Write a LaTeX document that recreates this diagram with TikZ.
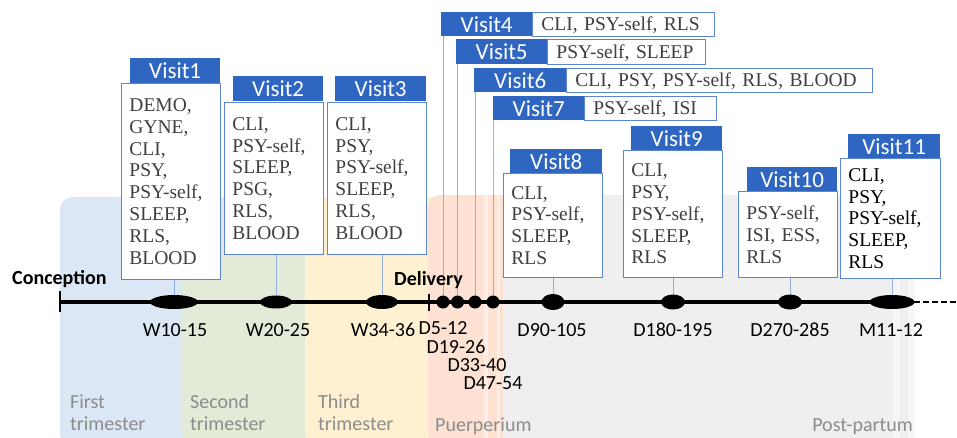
\documentclass[tikz,border=0pt]{standalone}
\usepackage{fontspec}
\setmainfont{Liberation Serif}
\newfontfamily\carl{Carlito}
\usetikzlibrary{shapes.geometric}
\definecolor{hblue}{HTML}{2F66C2}
\definecolor{bblue}{HTML}{5A86D4}
\definecolor{cblue}{HTML}{95B0E0}
\definecolor{txtgrey}{HTML}{3F3F3F}
\definecolor{labgrey}{HTML}{8C8C8C}
\definecolor{rblue}{HTML}{DCE7F5}
\definecolor{rgreen}{HTML}{E3EBD8}
\definecolor{ryellow}{HTML}{FEF1D2}
\definecolor{rorange}{HTML}{FDE2D3}
\definecolor{rorangel}{HTML}{FCEDE6}
\definecolor{rgrey}{HTML}{EFEFEF}
\definecolor{rgreyl}{HTML}{F6F6F6}
\begin{document}
\begin{tikzpicture}[x=1pt,y=-1pt,
  region/.style={rounded corners=12pt},
  vhead/.style={fill=hblue, text=white, font=\carl\fontsize{23}{26}\selectfont,
    inner sep=0pt, anchor=north west, minimum height=25pt},
  vbody/.style={draw=bblue, line width=0.9pt, fill=white, text=txtgrey,
    font=\fontsize{19.5}{21.8}\selectfont, align=left, inner xsep=8pt, inner ysep=0pt,
    anchor=north west},
  vline/.style={vbody, inner xsep=9pt, text height=13pt, text depth=0pt, minimum height=24pt},
  conn/.style={draw=cblue, line width=0.9pt},
  dot/.style={ellipse, fill=black, inner sep=0pt},
  tlab/.style={font=\carl\fontsize{20}{22}\selectfont, anchor=base, inner sep=0pt},
  reglab/.style={font=\carl\fontsize{20}{22}\selectfont, text=labgrey, anchor=base west, inner sep=0pt},
  boldlab/.style={font=\carl\bfseries\fontsize{20}{22}\selectfont, anchor=base, inner sep=0pt}
]
\useasboundingbox (0,0) rectangle (957,437);
\clip (0,0) rectangle (957,437);

% background regions
\fill[region, rblue] (60,197) rectangle (195,447);
\fill[region, rgreen] (182,197) rectangle (318,447);
\fill[region, ryellow] (305,197) rectangle (441,447);
\fill[region, rorange] (428,195) rectangle (515,447);
\fill[rorangel] (484,195) rectangle (487.5,447);
\fill[rorangel] (497,195) rectangle (500,447);
\fill[region, rgreyl] (503,195) rectangle (915,447);
\fill[region, rgrey] (503,195) rectangle (893,447);
\fill[rgrey] (900,195) rectangle (908,447);

% dot positions
\coordinate (p1) at (174,302);
\coordinate (p2) at (276,302);
\coordinate (p3) at (382,302);
\coordinate (p4) at (443,302);
\coordinate (p5) at (457.5,302);
\coordinate (p6) at (475,302);
\coordinate (p7) at (493,302);
\coordinate (p8) at (553,302);
\coordinate (p9) at (673,302);
\coordinate (p10) at (790,302);
\coordinate (p11) at (892,302);

% visit boxes
\node[vbody, minimum width=99pt, text width=83pt, minimum height=196pt] (b1) at (121,83)
  {DEMO,\\GYNE,\\CLI,\\PSY,\\PSY-self,\\SLEEP,\\RLS,\\BLOOD};
\node[vhead, minimum width=90pt] (h1) at (130,58) {Visit1};

\node[vbody, minimum width=99pt, text width=83pt, minimum height=152pt] (b2) at (224,102)
  {CLI,\\PSY-self,\\SLEEP,\\PSG,\\RLS,\\BLOOD};
\node[vhead, minimum width=90pt] (h2) at (233,76) {Visit2};

\node[vbody, minimum width=99pt, text width=83pt, minimum height=152pt] (b3) at (327,102)
  {CLI,\\PSY,\\PSY-self,\\SLEEP,\\RLS,\\BLOOD};
\node[vhead, minimum width=91pt] (h3) at (335,76) {Visit3};

\node[vline, minimum width=182pt, text width=164pt] (b4) at (532,12) {CLI, PSY-self, RLS};
\node[vhead, minimum width=91pt, minimum height=24pt] (h4) at (441,12) {Visit4};

\node[vline, minimum width=158pt, text width=140pt, minimum height=25pt] (b5) at (547,39) {PSY-self, SLEEP};
\node[vhead, minimum width=91pt] (h5) at (456,39) {Visit5};

\node[vline, minimum width=306pt, text width=288pt] (b6) at (566,68) {CLI, PSY, PSY-self, RLS, BLOOD};
\node[vhead, minimum width=92pt, minimum height=24pt] (h6) at (474,68) {Visit6};

\node[vline, minimum width=132pt, text width=114pt] (b7) at (584,96) {PSY-self, ISI};
\node[vhead, minimum width=91pt, minimum height=24pt] (h7) at (493,96) {Visit7};

\node[vbody, minimum width=99pt, text width=83pt, minimum height=104pt] (b8) at (503,173)
  {CLI,\\PSY-self,\\SLEEP,\\RLS};
\node[vhead, minimum width=92pt, minimum height=24pt] (h8) at (510,149) {Visit8};

\node[vbody, minimum width=99pt, text width=83pt, minimum height=127pt] (b9) at (623,150)
  {CLI,\\PSY,\\PSY-self,\\SLEEP,\\RLS};
\node[vhead, minimum width=91pt, minimum height=24pt] (h9) at (631,126) {Visit9};

\node[vbody, minimum width=99pt, text width=83pt, minimum height=86pt] (b10) at (738,191)
  {PSY-self,\\ISI, ESS,\\RLS};
\node[vhead, minimum width=90pt, minimum height=24pt] (h10) at (747,167) {Visit10};

\node[vbody, text=black, minimum width=100pt, text width=84pt, minimum height=120pt] (b11) at (840,158)
  {CLI,\\PSY,\\PSY-self,\\SLEEP,\\RLS};
\node[vhead, minimum width=92pt, minimum height=24pt] (h11) at (848,134) {Visit11};

% connectors
\draw[conn] (b1.south -| p1) -- (p1);
\draw[conn] (b2.south -| p2) -- (p2);
\draw[conn] (b3.south -| p3) -- (p3);
\draw[conn] (h4.south west -| p4) -- (p4);
\draw[conn] (h5.south west -| p5) -- (p5);
\draw[conn] (h6.south west -| p6) -- (p6);
\draw[conn] (h7.south west -| p7) -- (p7);
\draw[conn] (b8.south -| p8) -- (p8);
\draw[conn] (b9.south -| p9) -- (p9);
\draw[conn] (b10.south -| p10) -- (p10);
\draw[conn] (b11.south -| p11) -- (p11);

% timeline
\coordinate (tstart) at (60,302);
\coordinate (tend) at (914,302);
\coordinate (tfar) at (957,302);
\coordinate (deliv) at (429,302);
\draw[line width=3.2pt] (tstart) -- (tend);
\draw[line width=2pt, dash pattern=on 6pt off 3pt] (tend) -- (tfar);
\draw[line width=2.6pt] ([yshift=-10pt]tstart) -- ([yshift=11pt]tstart);
\draw[line width=2.2pt] ([yshift=-9pt]deliv) -- ([yshift=8pt]deliv);

% dots
\node[dot, minimum width=48pt, minimum height=14pt] (d1) at (p1) {};
\node[dot, minimum width=32pt, minimum height=13pt] (d2) at (p2) {};
\node[dot, minimum width=32pt, minimum height=14pt] (d3) at (p3) {};
\node[dot, minimum width=13pt, minimum height=13pt] (d4) at (p4) {};
\node[dot, minimum width=13pt, minimum height=13pt] (d5) at (p5) {};
\node[dot, minimum width=13pt, minimum height=13pt] (d6) at (p6) {};
\node[dot, minimum width=13pt, minimum height=13pt] (d7) at (p7) {};
\node[dot, minimum width=23pt, minimum height=16pt] (d8) at (p8) {};
\node[dot, minimum width=24pt, minimum height=15pt] (d9) at (p9) {};
\node[dot, minimum width=24pt, minimum height=15pt] (d10) at (p10) {};
\node[dot, minimum width=45pt, minimum height=14pt] (d11) at (p11) {};

% timeline labels
\node[boldlab, anchor=base west] (conc) at (12,284) {Conception};
\node[boldlab] (delv) at (428.5,285) {Delivery};
\node[tlab] (l1) at (175,336) {W10-15};
\node[tlab] (l2) at (278,336) {W20-25};
\node[tlab] (l3) at (383,336) {W34-36};
\node[tlab] (l4) at (443,334) {D5-12};
\node[tlab] (l5) at (456,353.5) {D19-26};
\node[tlab] (l6) at (477,371.5) {D33-40};
\node[tlab] (l7) at (493,389.5) {D47-54};
\node[tlab] (l8) at (552,336) {D90-105};
\node[tlab] (l9) at (673,336) {D180-195};
\node[tlab] (l10) at (790,336) {D270-285};
\node[tlab] (l11) at (891,336) {M11-12};

% region labels
\node[reglab] (r1a) at (70,408.5) {First};
\node[reglab] (r1b) at (70,430) {trimester};
\node[reglab] (r2a) at (190,408.5) {Second};
\node[reglab] (r2b) at (190,430) {trimester};
\node[reglab] (r3a) at (318,408.5) {Third};
\node[reglab] (r3b) at (318,430) {trimester};
\node[reglab] (r4) at (435,431) {Puerperium};
\node[reglab, anchor=base east] (r5) at (913,431) {Post-partum};
\end{tikzpicture}
\end{document}
